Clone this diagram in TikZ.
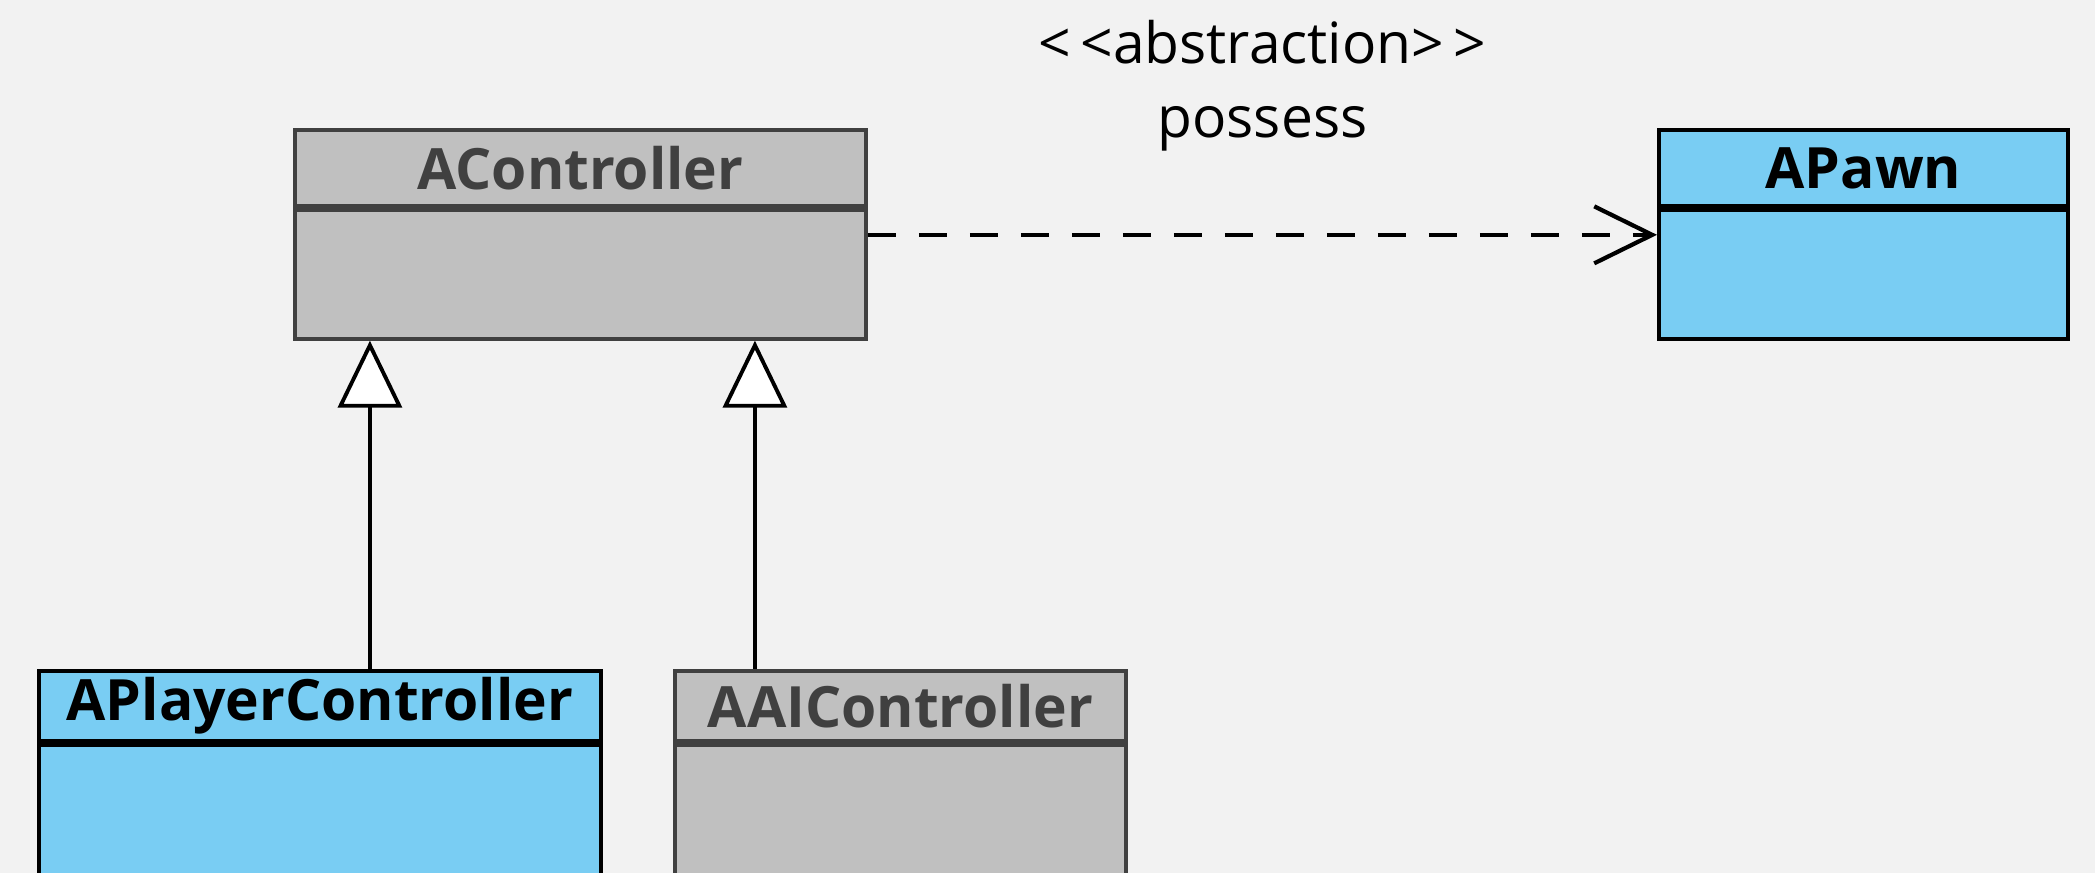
\documentclass[tikz,border=0pt]{standalone}
\usepackage{fontspec}
\setmainfont{Open Sans}
\usepackage{tikz}
\usetikzlibrary{arrows.meta, positioning}
\definecolor{umlbg}{RGB}{242,242,242}
\definecolor{umlgray}{RGB}{192,192,192}
\definecolor{umlgrayline}{RGB}{64,64,64}
\definecolor{umlblue}{RGB}{121,205,243}

\tikzset{
	classhead/.style={draw, line width=1.1pt, inner sep=0pt, font=\fontsize{16.2}{19}\selectfont\bfseries},
	classbody/.style={draw, line width=1.1pt, inner sep=0pt, anchor=north},
	grayclass/.style={fill=umlgray, draw=umlgrayline, text=umlgrayline},
	blueclass/.style={fill=umlblue, draw=black, text=black},
	extends/.style={line width=1.1pt, -{Triangle[length=0.67cm, width=0.64cm, fill=white, line width=1.1pt]}},
	uses/.style={line width=1.2pt, dash pattern=on 0.28cm off 0.23cm, -{Straight Barb[length=0.58cm, width=0.57cm, line width=1.2pt]}}
}

\begin{document}
\begin{tikzpicture}
			% background and bounding box
			\fill[umlbg] (0,0) rectangle (20.95,-8.73);
			\useasboundingbox (0,0) rectangle (20.95,-8.73);

			% classes
			\node[classhead, grayclass, anchor=north west, minimum width=5.71cm, minimum height=0.76cm] (ctrl) at (2.93,-1.28) {AController};
			\node[classbody, grayclass, minimum width=5.71cm, minimum height=1.29cm] (ctrlbody) at (ctrl.south) {};
			\node[classhead, blueclass, anchor=north west, minimum width=4.09cm, minimum height=0.76cm] (pawn) at (16.57,-1.28) {APawn};
			\node[classbody, blueclass, minimum width=4.09cm, minimum height=1.29cm] (pawnbody) at (pawn.south) {};
			\node[classhead, blueclass, anchor=north west, minimum width=5.62cm, minimum height=0.70cm] (player) at (0.37,-6.69) {APlayerController};
			\node[classbody, blueclass, minimum width=5.62cm, minimum height=1.32cm] (playerbody) at (player.south) {};
			\node[classhead, grayclass, anchor=north west, minimum width=4.51cm, minimum height=0.70cm] (ai) at (6.73,-6.69) {AAIController};
			\node[classbody, grayclass, minimum width=4.51cm, minimum height=1.32cm] (aibody) at (ai.south) {};

			% relations
			\draw[extends] ([xshift=5mm]player.north) -- ([xshift=5mm]player.north |- ctrlbody.south);
			\draw[extends] ([xshift=-14.55mm]ai.north) -- ([xshift=-14.55mm]ai.north |- ctrlbody.south);
			\draw[uses] ([yshift=-2.7mm]ctrlbody.north east) -- ([yshift=-2.7mm]pawnbody.north west)
				node[midway, above=0.82cm, inner sep=0pt, align=center, font=\fontsize{16.2}{20.8}\selectfont] (possess) {<\,<abstraction>\,>\\possess};
		\end{tikzpicture}
\end{document}
